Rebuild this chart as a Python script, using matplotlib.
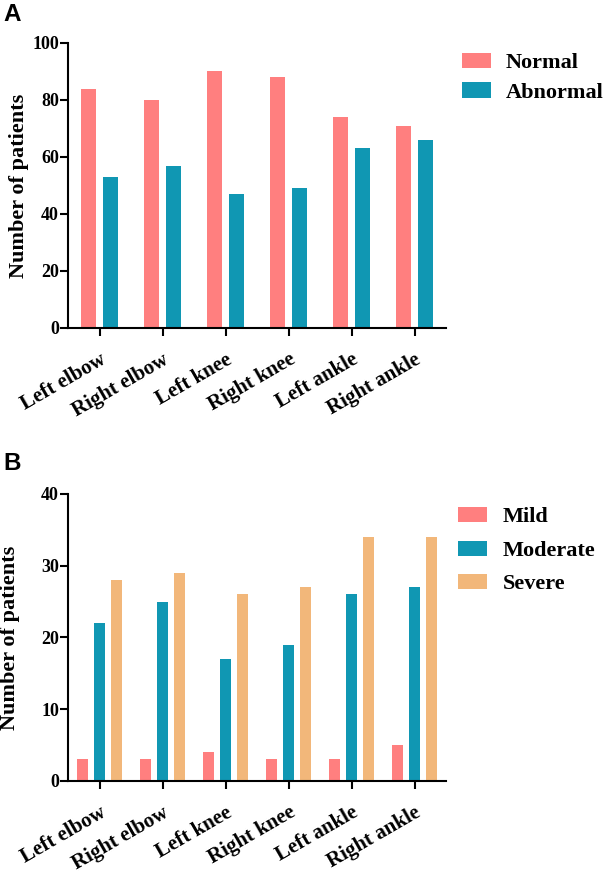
import numpy as np
import matplotlib
matplotlib.use("Agg")
import matplotlib.pyplot as plt

plt.rcParams['font.family'] = ['Liberation Serif', 'DejaVu Serif']
plt.rcParams['font.weight'] = 'bold'

joints = ["Left elbow", "Right elbow", "Left knee", "Right knee", "Left ankle", "Right ankle"]

# panel A
normal = [84, 80, 90, 88, 74, 71]
abnormal = [53, 57, 47, 49, 63, 66]

# panel B
mild = [3, 3, 4, 3, 3, 5]
moderate = [22, 25, 17, 19, 26, 27]
severe = [28, 29, 26, 27, 34, 34]

c_pink = "#FF7F7F"
c_teal = "#1097B3"
c_tan = "#F2B77A"

fig = plt.figure(figsize=(6.03, 8.72), dpi=100)
axA = fig.add_axes([0.1128, 0.6239, 0.6269, 0.3268])
axB = fig.add_axes([0.1128, 0.1044, 0.6269, 0.3291])

x = np.arange(len(joints))


def style(ax, ymax, step, labx):
    for s in ["top", "right"]:
        ax.spines[s].set_visible(False)
    for s in ["left", "bottom"]:
        ax.spines[s].set_linewidth(1.5)
    ax.set_xlim(-0.5, len(joints) - 0.5)
    ax.set_ylim(0, ymax)
    ax.set_yticks(np.arange(0, ymax + 1, step))
    ax.set_xticks(x)
    ax.set_xticklabels(joints, rotation=30, ha='right', rotation_mode='anchor',
                       fontsize=15, fontweight='bold')
    ax.tick_params(axis='both', width=1.5, length=5.5, direction='out')
    ax.tick_params(axis='y', labelsize=13, pad=1)
    ax.tick_params(axis='x', pad=10)
    for t in ax.get_yticklabels():
        t.set_fontweight('bold')
    ax.set_ylabel("Number of patients", fontsize=16, fontweight='bold')
    ax.yaxis.set_label_coords(labx, 0.5)


w = 0.24
axA.bar(x - 0.18, normal, w, color=c_pink, label="Normal")
axA.bar(x + 0.18, abnormal, w, color=c_teal, label="Abnormal")
style(axA, 100, 20, -0.1032)
fig.legend(handles=axA.patches[:1] + axA.patches[6:7], labels=["Normal", "Abnormal"],
           loc='upper left', bbox_to_anchor=(0.766, 0.9392), frameon=False,
           prop={'size': 16, 'weight': 'bold'}, handlelength=1.3, handleheight=0.68,
           labelspacing=0.4, handletextpad=0.68, borderpad=0, borderaxespad=0)

wb = 0.18
axB.bar(x - 0.27, mild, wb, color=c_pink, label="Mild")
axB.bar(x, moderate, wb, color=c_teal, label="Moderate")
axB.bar(x + 0.27, severe, wb, color=c_tan, label="Severe")
style(axB, 40, 10, -0.127)
hb = [axB.patches[0], axB.patches[6], axB.patches[12]]
fig.legend(handles=hb, labels=["Mild", "Moderate", "Severe"],
           loc='upper left', bbox_to_anchor=(0.7595, 0.4186), frameon=False,
           prop={'size': 16, 'weight': 'bold'}, handlelength=1.3, handleheight=0.68,
           labelspacing=0.59, handletextpad=0.72, borderpad=0, borderaxespad=0)

fig.text(0.005, 0.983, "A", fontsize=17.5, fontweight='bold', family='Liberation Sans', va='center')
fig.text(0.005, 0.469, "B", fontsize=17.5, fontweight='bold', family='Liberation Sans', va='center')

fig.savefig("out.png", dpi=100)
